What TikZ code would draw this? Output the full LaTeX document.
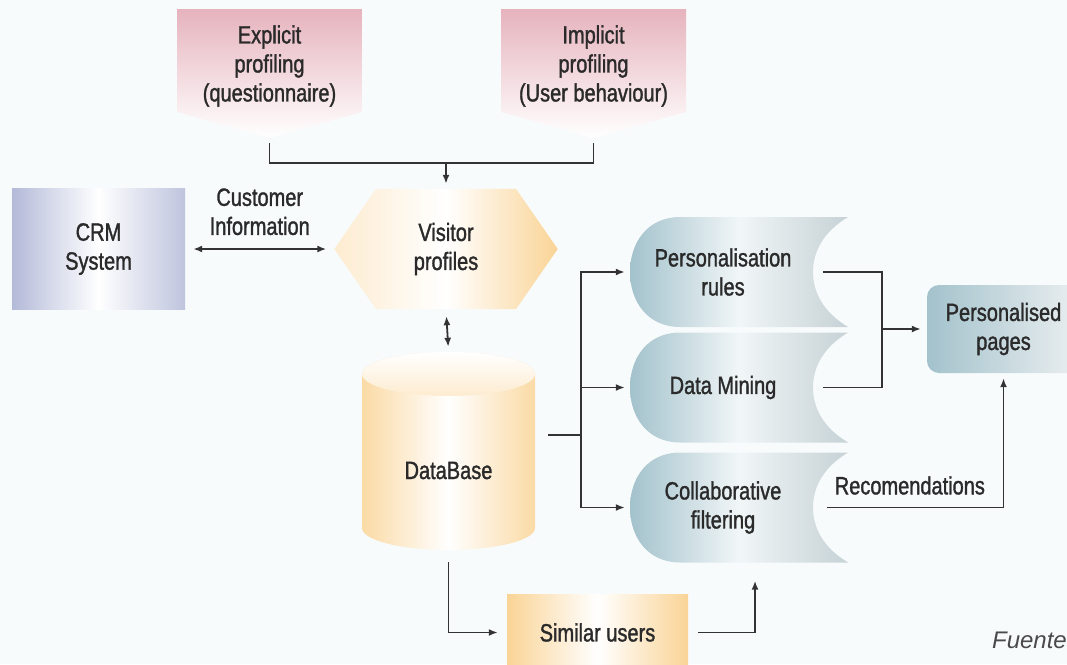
\documentclass[tikz,border=0pt]{standalone}
\usepackage{fontspec}
\setmainfont{Liberation Sans}
\newfontfamily\condfont{Liberation Sans}[FakeStretch=0.8, FakeBold=1.3]
\usetikzlibrary{positioning,arrows.meta,calc}
\definecolor{PaperBlue}{HTML}{F8FBFC}
\definecolor{InkGray}{HTML}{2A2A2A}
\definecolor{WireGray}{HTML}{333333}
\definecolor{SoftPink}{HTML}{E6B3BD}
\definecolor{Peach}{HTML}{FAD496}
\definecolor{SteelBlue}{HTML}{A3C2CC}
\definecolor{SteelGray}{HTML}{C6D2D6}
\definecolor{Lavender}{HTML}{B3BAD8}
\pgfdeclarelayer{back}
\pgfsetlayers{back,main}

\begin{document}
\begin{tikzpicture}[x=1pt, y=-1pt,
				lbl/.style={font=\condfont\fontsize{25}{29}\selectfont, text=InkGray,
					align=center, inner sep=0pt},
				crmbox/.style={lbl, left color=Lavender, right color=Lavender!85, middle color=white,
					minimum width=173, minimum height=121},
				pagebox/.style={lbl, rounded corners=12pt, left color=SteelBlue, right color=SteelGray!35,
					minimum width=153, minimum height=88},
				userbox/.style={lbl, left color=Peach, right color=Peach, middle color=white,
					minimum width=181, minimum height=76},
				hexbox/.style={lbl, minimum width=223, minimum height=120},
				dbbox/.style={lbl, minimum width=173, minimum height=198, text height=56pt, text depth=0pt},
				rulebox/.style={lbl, minimum width=186, minimum height=110},
				pinkfill/.style={top color=SoftPink, middle color=SoftPink!60, bottom color=white},
				hexfill/.style={left color=Peach!45, right color=Peach, middle color=white},
				dbfill/.style={left color=Peach!85, right color=Peach!85, middle color=white},
				lidfill/.style={top color=white, bottom color=Peach!45},
				steelfill/.style={left color=SteelBlue, right color=SteelGray, middle color=white!85!SteelBlue},
				wire/.style={WireGray, line width=1.8pt},
				arrow/.style={wire, -{Latex[length=9pt,width=7pt]}},
				dblarrow/.style={wire, {Latex[length=9pt,width=7pt]}-{Latex[length=9pt,width=7pt]}}
				]
				\useasboundingbox (0,0) rectangle (1067,664);
				\node[lbl] (expl) at (269.5,66) {Explicit\\profiling\\(questionnaire)};
				\node[lbl] (impl) at (593.5,66) {Implicit\\profiling\\(User behaviour)};
				\node[crmbox] (crm) at (98.5,249) {CRM\\System};
				\node[hexbox] (vp) at (446,249) {Visitor\\profiles};
				\node[dbbox] (db) at (448.5,451) {DataBase};
				\node[rulebox] (pr) at (723,272) {Personalisation\\rules};
				\node[rulebox] (dm) at (723,387.5) {Data Mining};
				\node[rulebox] (cf) at (723,507.5) {Collaborative\\filtering};
				\node[pagebox] (pp) at (1003.5,329) {Personalised\\pages};
				\node[userbox] (su) at (597.5,632.5) {Similar users};
				\node[font=\itshape\fontsize{24}{28}\selectfont, text=InkGray!85, anchor=east, inner sep=0pt]
					(src) at (1067,640) {Fuente};
				\coordinate (join) at (446,163);
				\coordinate (split) at (581,435);
				\coordinate (merge) at (882,329);

				\begin{pgfonlayer}{back}
					\fill[PaperBlue] (0,0) rectangle (1067,664);
					\foreach \n in {expl,impl}{
						\begin{scope}[shift={(\n.center)}]
							\path[pinkfill] (-92.5,-57) -- (92.5,-57) -- (92.5,46) -- (0,72) -- (-92.5,46) -- cycle;
						\end{scope}}
					\path[hexfill] (vp.west) -- ([xshift=-70pt]vp.north) -- ([xshift=70pt]vp.north) -- (vp.east)
						-- ([xshift=70pt]vp.south) -- ([xshift=-70pt]vp.south) -- cycle;
					\path[dbfill] ([shift={(-86.5,-77)}]db.center) -- ([shift={(-86.5,77)}]db.center)
						arc[start angle=180, end angle=360, x radius=86.5pt, y radius=22pt]
						-- ([shift={(86.5,-77)}]db.center)
						arc[start angle=0, end angle=180, x radius=86.5pt, y radius=22pt] -- cycle;
					\path[lidfill] ([yshift=77pt]db.center) ellipse [x radius=86.5pt, y radius=22pt];
					\foreach \n in {pr,dm,cf}{
						\begin{scope}[shift={(\n.center)}]
							\path[steelfill] (125,-55) -- (-43,-55) .. controls (-75,-55) and (-93,-30) .. (-93,0)
								.. controls (-93,30) and (-75,55) .. (-43,55) -- (125,55)
								.. controls (100,40) and (90,20) .. (90,0)
								.. controls (90,-20) and (100,-40) .. (125,-55) -- cycle;
						\end{scope}}
				\end{pgfonlayer}

				\draw[wire] ([yshift=-77pt]expl.center) |- (join) -| ([yshift=-77pt]impl.center);
				\draw[arrow, shorten >=5pt] (join) -- (vp.north);
				\draw[dblarrow, shorten <=8pt, shorten >=8pt] (crm.east) -- (vp.west)
					node[lbl, midway, above=13pt] {Customer\\Information};
				\draw[dblarrow, shorten <=7pt, shorten >=5pt] (vp.south) -- (db.north);
				\draw[wire, shorten <=13pt] ([yshift=16pt]db.east) -- (split);
				\draw[arrow, shorten >=5pt] (split) |- (pr.west);
				\draw[arrow, shorten >=5pt] (split) |- (dm.west);
				\draw[arrow, shorten >=5pt] (split) |- (cf.west);
				\draw[wire, shorten <=7pt] (pr.east) -| (merge);
				\draw[wire, shorten <=7pt] (dm.east) -| (merge);
				\draw[arrow, shorten >=6pt] (merge) -- (pp.west);
				\draw[arrow, shorten <=11pt, shorten >=5pt] (cf.east) -| (pp.south)
					node[lbl, pos=0.25, above=12pt] {Recomendations};
				\draw[arrow, shorten <=12pt, shorten >=9pt] (db.south) |- (su.west);
				\draw[arrow, shorten <=10pt, shorten >=18pt] (su.east) -| ([xshift=32pt]cf.south);
			\end{tikzpicture}
\end{document}
